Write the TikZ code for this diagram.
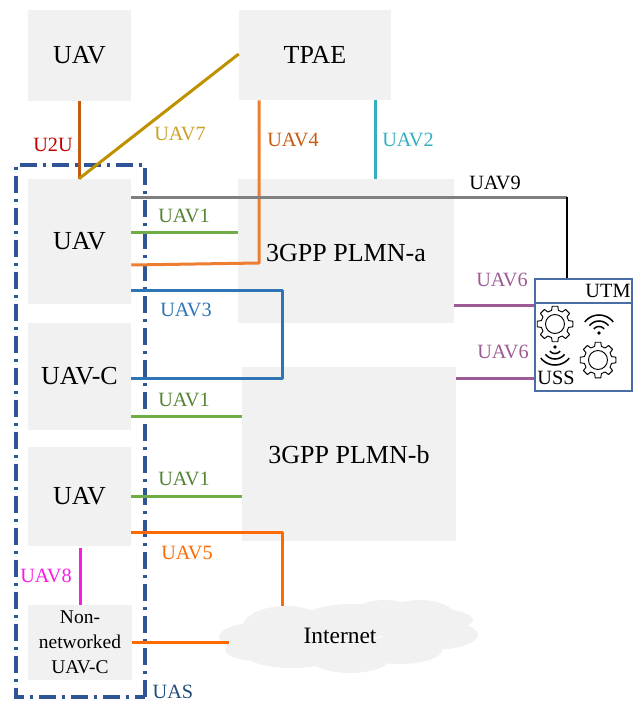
\documentclass[tikz,border=0pt]{standalone}
\usepackage{fontspec}
\setmainfont{Liberation Serif}
\usetikzlibrary{calc}
\definecolor{boxgray}{HTML}{F1F1F1}
\definecolor{greenline}{HTML}{70AD47}
\definecolor{greentext}{HTML}{548235}
\definecolor{gold}{HTML}{BF9000}
\definecolor{goldtext}{HTML}{C9A227}
\definecolor{orangeline}{HTML}{ED7D31}
\definecolor{orangetext}{HTML}{C55A11}
\definecolor{rustline}{HTML}{C55A11}
\definecolor{teal}{HTML}{31B0C0}
\definecolor{blueline}{HTML}{2E75B6}
\definecolor{purpleline}{HTML}{9C5B94}
\definecolor{vivid}{HTML}{FF6A00}
\definecolor{magentaline}{HTML}{F81CE0}
\definecolor{frameblue}{HTML}{2F5597}
\definecolor{uasblue}{HTML}{1F4E79}
\definecolor{utmblue}{HTML}{4A6DA7}
\definecolor{redtext}{HTML}{C00000}
\tikzset{
  x=0.75pt,y=-0.75pt,
  boxnode/.style={fill=boxgray,inner sep=0pt,align=center,font=\fontsize{19.5}{22}\selectfont},
  smallbox/.style={font=\fontsize{14.6}{18.6}\selectfont},
  link/.style={line width=2.25pt,line join=round},
  lab/.style={inner sep=0pt,font=\fontsize{15.2}{18}\selectfont},
  gearicon/.pic={
    \draw[line width=0.7pt,line join=round]
      (0:18) \foreach \a in {0,45,...,315} {
        -- (\a+9:18) -- (\a+14:14) -- (\a+31:14) -- (\a+36:18)
      } -- cycle;
    \draw[line width=0.7pt] (0,0) circle[radius=9.5];
  },
  wifiicon/.pic={
    \fill (0,0) circle[radius=1.8];
    \foreach \r in {6.5,12,18} {
      \draw[line width=1.15pt] plot[domain=-52:52,samples=15,smooth] ({\r*sin(\x)},{-\r*cos(\x)});
    }
  }
}
\newcommand{\boxat}[7][]{%
  \node[boxnode,#1,minimum width={(#5-#3)*0.75pt},minimum height={(#6-#4)*0.75pt}] (#2) at ({(#3+#5)/2},{(#4+#6)/2}) {#7};}
\begin{document}
\begin{tikzpicture}
\useasboundingbox (0,0) rectangle (639,703);
% boxes
\boxat{uavtop}{28}{10}{131}{101}{UAV}
\boxat{tpae}{239}{10}{391}{100}{TPAE}
\boxat{uava}{28}{179}{131}{304}{UAV}
\boxat{uavc}{28}{323}{131}{430}{UAV-C}
\boxat{uavb}{28}{447}{131}{546}{UAV}
\boxat[smallbox]{nonnet}{28}{605}{132}{680}{Non-\\networked\\UAV-C}
\boxat{plmna}{238}{179}{454}{323}{}
\boxat{plmnb}{242}{367}{456}{541}{}
\node[inner sep=0pt,font=\fontsize{19.5}{22}\selectfont] (plmnatext) at (346,253) {3GPP PLMN-a};
\node[inner sep=0pt,font=\fontsize{19.5}{22}\selectfont] (plmnbtext) at (349,455) {3GPP PLMN-b};
% cloud
\fill[boxgray]
  (255,637) ellipse[x radius=36,y radius=14]
  (258,650) ellipse[x radius=33,y radius=11]
  (286,628) ellipse[x radius=44,y radius=22]
  (350,622) ellipse[x radius=50,y radius=18]
  (385,617) ellipse[x radius=35,y radius=17]
  (420,616) ellipse[x radius=35,y radius=16]
  (437,620) ellipse[x radius=36,y radius=11]
  (430,635) ellipse[x radius=48,y radius=15]
  (400,650) ellipse[x radius=42,y radius=14]
  (350,657) ellipse[x radius=41,y radius=16]
  (292,654) ellipse[x radius=47,y radius=14];
\node[inner sep=0pt,font=\fontsize{17.6}{20}\selectfont] (internet) at (340,636) {Internet};
\coordinate (cloudtop) at (282,606);
\coordinate (cloudleft) at (229,642);
% UAS frame
\draw[frameblue,line width=2.8pt,dash pattern=on 12.5pt off 4.5pt on 2.4pt off 4.6pt]
  (145,697) -- (145,165) -- (16,165) -- (16,697) -- cycle;
\node[inner sep=0pt,text=uasblue,font=\fontsize{15.2}{18}\selectfont] (uas) at (173,692) {UAS};
% UTM
\node[draw=utmblue,line width=1.4pt,fill=white,minimum width={97*0.75pt},minimum height={112*0.75pt},inner sep=0pt] (utm) at (583.5,335) {};
\coordinate (utmhl) at (535,303);
\coordinate (utmhr) at (632,303);
\draw[utmblue,line width=1.4pt] (utmhl) -- (utmhr);
\node[inner sep=0pt,font=\fontsize{15.2}{18}\selectfont] (utmtext) at (608,291) {UTM};
\node[inner sep=0pt,font=\fontsize{15.2}{18}\selectfont] (usstext) at (556,378) {USS};
\pic at (555,324) {gearicon};
\pic at (598,360) {gearicon};
\pic at (599,333) {wifiicon};
\pic[yscale=-1] at (555,347) {wifiicon};
% connectors
\draw[link,rustline] (uavtop.south -| 79,0) -- (uava.north -| 79,0);
\draw[link,gold] (tpae.west |- 0,54) -- (uava.north -| 79,0);
\draw[link,orangeline] (tpae.south -| 259,0) -- (259,263) -- (uava.east |- 0,265);
\draw[link,teal] (tpae.south -| 375,0) -- (plmna.north -| 375,0);
\draw[link,gray] (uava.east |- 0,197) -- (567,197);
\draw[line width=1.8pt,black] (567,197) -- (utm.north -| 567,0);
\draw[link,greenline] (uava.east |- 0,232) -- (plmna.west |- 0,232);
\draw[link,blueline] (uava.east |- 0,290) -- (282,290) -- (282,378) -- (uavc.east |- 0,378);
\draw[link,greenline] (uavc.east |- 0,416) -- (plmnb.west |- 0,416);
\draw[link,greenline] (uavb.east |- 0,496) -- (plmnb.west |- 0,496);
\draw[link,vivid] (uavb.east |- 0,532) -- (282,532) -- (cloudtop);
\draw[link,vivid] (nonnet.east |- cloudleft) -- (cloudleft);
\draw[link,magentaline] (80,548) -- (nonnet.north -| 80,0);
\draw[link,purpleline] (plmna.east |- 0,305) -- (utm.west |- 0,305);
\draw[link,purpleline] (plmnb.east |- 0,378) -- (utm.west |- 0,378);
% labels
\node[lab,text=redtext] (lu2u) at (53,145) {U2U};
\node[lab,text=goldtext] (l7) at (180,134) {UAV7};
\node[lab,text=orangetext] (l4) at (293,140) {UAV4};
\node[lab,text=teal] (l2) at (408,140) {UAV2};
\node[lab] (l9) at (495,183) {UAV9};
\node[lab,text=greentext] (l1a) at (184,216) {UAV1};
\node[lab,text=blueline] (l3) at (186,310) {UAV3};
\node[lab,text=purpleline] (l6a) at (502,280) {UAV6};
\node[lab,text=purpleline] (l6b) at (503,352) {UAV6};
\node[lab,text=greentext] (l1b) at (184,400) {UAV1};
\node[lab,text=greentext] (l1c) at (184,479) {UAV1};
\node[lab,text=vivid] (l5) at (187,553) {UAV5};
\node[lab,text=magentaline] (l8) at (46,576) {UAV8};
\end{tikzpicture}
\end{document}
